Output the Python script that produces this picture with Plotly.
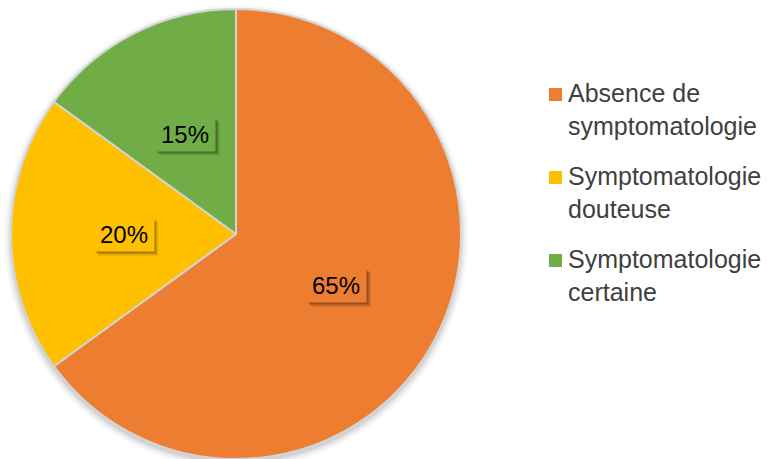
import math
import plotly.graph_objects as go

# Data
categories = ["Absence de<br>symptomatologie", "Symptomatologie<br>douteuse", "Symptomatologie<br>certaine"]
values = [65, 20, 15]
colors = ["#ED7D31", "#FFC000", "#70AD47"]

W, H = 769, 459
FONT = "Liberation Sans, Arial, sans-serif"

# pie placement (paper fractions)
dom_x = [11 / W, 461 / W]
dom_y = [0.0, 450 / H]
cx_px = (dom_x[0] + dom_x[1]) / 2 * W
cy_px = (1 - (dom_y[0] + dom_y[1]) / 2) * H
R_px = min((dom_x[1] - dom_x[0]) * W, (dom_y[1] - dom_y[0]) * H) / 2

fig = go.Figure()
fig.add_trace(go.Pie(
    labels=categories,
    values=values,
    sort=False,
    direction="clockwise",
    rotation=0,
    marker=dict(colors=colors, line=dict(color="#D4D4D4", width=2)),
    textinfo="none",
    hoverinfo="label+percent",
    domain=dict(x=dom_x, y=dom_y),
    showlegend=False,
))


def px_rect(x0, y0, x1, y1, **kw):
    """Rectangle given in pixels from the top-left corner."""
    return dict(type="rect", xref="paper", yref="paper",
                x0=x0 / W, x1=x1 / W, y0=1 - y1 / H, y1=1 - y0 / H, **kw)


# soft drop shadow under the pie
shapes = []
for grow, alpha in [(7, 0.025), (5, 0.035), (3, 0.05), (1, 0.07)]:
    r = R_px + grow
    oy = 3
    shapes.append(dict(
        type="circle", xref="paper", yref="paper", layer="below",
        x0=(cx_px - r) / W, x1=(cx_px + r) / W,
        y0=1 - (cy_px + oy + r) / H, y1=1 - (cy_px + oy - r) / H,
        line=dict(width=0), fillcolor=f"rgba(0,0,0,{alpha})",
    ))

# percentage labels in boxes at half radius of each slice's mid-angle
BOX_W, BOX_H, PAD = 56, 30, 2
annotations = []
total = sum(values)
cum = 0
for v, c in zip(values, colors):
    mid = (cum + v / 2) / total * 2 * math.pi
    cum += v
    lx = cx_px + 0.5 * R_px * math.sin(mid)
    ly = cy_px - 0.5 * R_px * math.cos(mid)
    text = f"{round(v / total * 100)}%"
    hw, hh = BOX_W / 2 + PAD, BOX_H / 2 + PAD
    # blurred box shadow toward the lower right
    for sh, a in [(5, 0.06), (4, 0.09), (3, 0.12), (2, 0.15)]:
        shapes.append(px_rect(lx - hw + sh, ly - hh + sh, lx + hw + sh, ly + hh + sh,
                              layer="above", line=dict(width=0),
                              fillcolor=f"rgba(0,0,0,{a})"))
    annotations.append(dict(
        x=lx / W, y=1 - ly / H, xref="paper", yref="paper",
        xanchor="center", yanchor="middle", text=text,
        showarrow=False, width=BOX_W, height=BOX_H, borderpad=PAD,
        bgcolor=c, font=dict(family=FONT, size=24, color="#000000"),
    ))

# legend: colour square + two-line label per category
LEG_X_SQ = 549
LEG_X_TXT = 567
LEG_TOP = 78
LEG_STEP = 83
SQ = 13
for i, (lab, c) in enumerate(zip(categories, colors)):
    top = LEG_TOP + i * LEG_STEP
    annotations.append(dict(
        x=LEG_X_TXT / W, y=1 - top / H, xref="paper", yref="paper",
        xanchor="left", yanchor="top", align="left", showarrow=False,
        text=lab, borderpad=0,
        font=dict(family=FONT, size=25, color="#404040"),
    ))
    sq_top = top + 10
    shapes.append(px_rect(LEG_X_SQ, sq_top, LEG_X_SQ + SQ, sq_top + SQ,
                          line=dict(width=0), fillcolor=c))

fig.update_layout(
    width=W, height=H,
    margin=dict(l=0, r=0, t=0, b=0),
    paper_bgcolor="white",
    plot_bgcolor="white",
    shapes=shapes,
    annotations=annotations,
    showlegend=False,
)

fig.write_html("out.html")
